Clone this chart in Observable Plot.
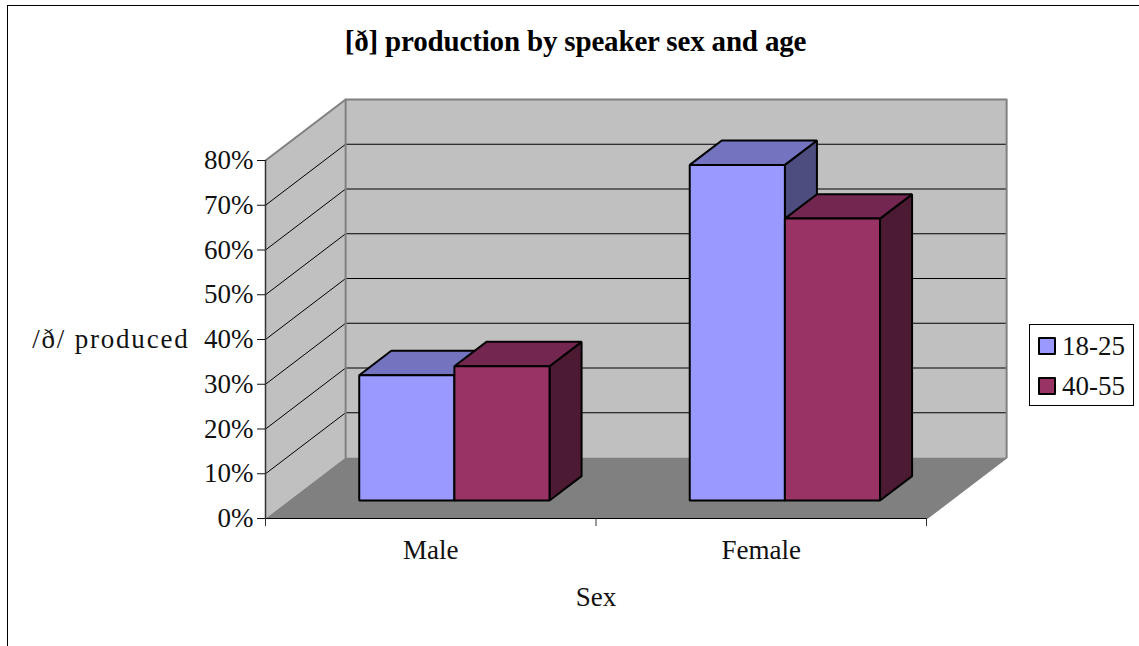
<!DOCTYPE html>
<html>
<head>
<meta charset="utf-8">
<script src="https://cdn.jsdelivr.net/npm/d3@7"></script>
<script src="https://cdn.jsdelivr.net/npm/@observablehq/plot@0.6"></script>
<style>
  html, body { margin: 0; padding: 0; background: #fff; overflow: hidden; }
  body { position: relative; width: 1139px; height: 646px; font-family: "Liberation Serif", serif; color: #111; }
  #outline { position: absolute; left: 7px; top: 5px; right: 0; bottom: 0; border-left: 1px solid #000; border-top: 1px solid #000; }
  #title { position: absolute; left: 0; width: 1151px; top: 23px; text-align: center; font-size: 29px; font-weight: bold; line-height: 36px; color: #000; letter-spacing: -0.17px; }
  #legend { position: absolute; left: 1029px; top: 324px; width: 103px; height: 80px; border: 1px solid #000; box-sizing: content-box; background: #fff; font-size: 27px; }
  .row { position: absolute; left: 8px; height: 20px; display: flex; align-items: center; line-height: 20px; }
  .row i { display: block; width: 14px; height: 14px; border: 2px solid #000; border-radius: 1px; margin-right: 6px; }
  svg { position: absolute; left: 0; top: 0; }
</style>
</head>
<body>
<div id="outline"></div>
<div id="title"></div>
<div id="chart"></div>
<div id="legend"></div>
<script>
const titleText = "[ð] production by speaker sex and age";
const yLabel = "/ð/ produced";
const categories = ["Male", "Female"];
const seriesNames = ["18-25", "40-55"];
const values1825 = [28, 75];
const values4055 = [30, 63];
const yTicks = [0, 10, 20, 30, 40, 50, 60, 70, 80];

const frontColors = ["#9999FF", "#993366"];
const topColors = ["#7373BF", "#732650"];
const sideColors = ["#4D4D80", "#4D1A33"];

// oblique projection: depth 0 = front edge of floor, depth 1 = back wall
const depthX = 80 / 330;   // in category units
const depthY = 61 / 4.475; // in percent units
const project = (c, d, v) => ({x: c + d * depthX, y: v + d * depthY});

const barWidth = 95 / 330;
const depth0 = 0.295, depth1 = 0.695;

const polys = [];
const addPoly = (id, fill, pts) => pts.forEach(p => polys.push({id, fill, ...p}));
[values1825, values4055].forEach((vals, s) => {
  vals.forEach((v, i) => {
    const c0 = i + 0.5 + (s - 1) * barWidth, c1 = c0 + barWidth;
    const id = `${s}-${i}`;
    addPoly(id + "side", sideColors[s], [project(c1, depth0, 0), project(c1, depth1, 0), project(c1, depth1, v), project(c1, depth0, v)]);
    addPoly(id + "top", topColors[s], [project(c0, depth0, v), project(c0, depth1, v), project(c1, depth1, v), project(c1, depth0, v)]);
    addPoly(id + "front", frontColors[s], [project(c0, depth0, 0), project(c1, depth0, 0), project(c1, depth0, v), project(c0, depth0, v)]);
  });
});

const wallPts = [];
const addWall = (id, fill, pts) => pts.forEach(p => wallPts.push({id, fill, ...p}));
addWall("left", "#C0C0C0", [project(0, 0, 0), project(0, 1, 0), project(0, 1, 80), project(0, 0, 80)]);
addWall("back", "#C0C0C0", [project(0, 1, 0), project(2, 1, 0), project(2, 1, 80), project(0, 1, 80)]);
addWall("floor", "#808080", [project(0, 0, 0), project(2, 0, 0), project(2, 1, 0), project(0, 1, 0)]);

const gridPts = yTicks.filter(t => t > 0 && t < 80).flatMap(t =>
  [project(0, 0, t), project(0, 1, t), project(2, 1, t)].map(p => ({t, ...p})));

const edgePts = [
  ...[project(0, 0, 80), project(0, 1, 80), project(2, 1, 80), project(2, 1, 0), project(2, 0, 0)].map(p => ({id: "outer", ...p})),
  ...[project(0, 1, 80), project(0, 1, 0)].map(p => ({id: "corner", ...p}))
];

const chart = Plot.plot({
  width: 1139,
  height: 646,
  marginLeft: 265,
  marginRight: 213,
  marginTop: 160,
  marginBottom: 128,
  style: {background: "transparent", fontFamily: "'Liberation Serif', serif", color: "#111"},
  x: {domain: [0, 2]},
  y: {domain: [0, 80]},
  marks: [
    Plot.line(wallPts, {x: "x", y: "y", z: "id", fill: "fill", stroke: "none", curve: "linear-closed"}),
    Plot.line(gridPts, {x: "x", y: "y", z: "t", stroke: "#000", strokeWidth: 1}),
    Plot.line(edgePts, {x: "x", y: "y", z: "id", stroke: "#808080", strokeWidth: 2}),
    Plot.ruleY([0], {stroke: "#000", strokeWidth: 1.2}),
    Plot.ruleX([0], {stroke: "#333", strokeWidth: 1.5}),
    Plot.line(polys, {x: "x", y: "y", z: "id", fill: "fill", stroke: "#000", strokeWidth: 2, strokeLinejoin: "miter", curve: "linear-closed"}),
    Plot.axisY({ticks: yTicks, tickFormat: d => d + "%", tickSize: 8, tickPadding: 4, fontSize: 27, label: null}),
    Plot.axisX({ticks: [0, 1, 2], tickFormat: () => "", tickSize: 8, label: null, stroke: "#333"}),
    Plot.axisX({ticks: [0.5, 1.5], tickFormat: d => categories[d - 0.5], tickSize: 0, tickPadding: 21, fontSize: 27, label: "Sex", labelAnchor: "center", labelArrow: "none", labelOffset: 87}),
    Plot.text([yLabel], {frameAnchor: "left", dx: -76, textAnchor: "end", fontSize: 27, fill: "#111"})
  ]
});
document.getElementById("chart").append(chart);
chart.querySelectorAll("text").forEach(t => {
  if (t.textContent === yLabel) t.style.letterSpacing = "1.8px";
});

document.getElementById("title").textContent = titleText;
const legend = document.getElementById("legend");
seriesNames.forEach((name, s) => {
  const row = document.createElement("div");
  row.className = "row";
  row.style.top = (s === 0 ? 11 : 51) + "px";
  const sw = document.createElement("i");
  sw.style.background = frontColors[s];
  row.append(sw, name);
  legend.append(row);
});
</script>
</body>
</html>
